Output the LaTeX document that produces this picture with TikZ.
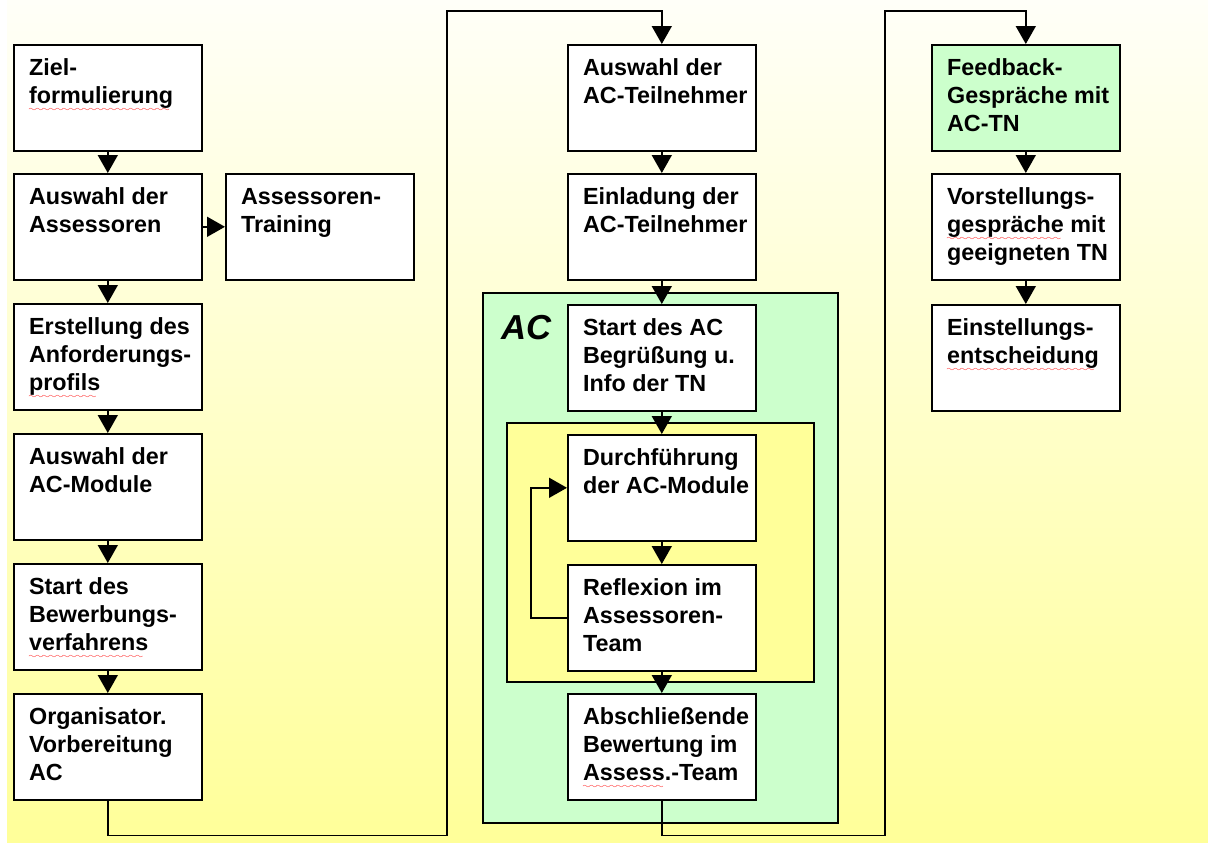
\documentclass[tikz,border=0pt]{standalone}
\usepackage{fontspec}
\setmainfont{Liberation Sans}
\usetikzlibrary{arrows.meta,positioning}

\definecolor{acgreen}{HTML}{CCFFCC}
\definecolor{loopyellow}{HTML}{FFFF99}
\definecolor{bgtop}{HTML}{FFFFF8}

% red spell-check wave under a word
\font\wavefont=lasy6
\newcommand{\redwave}[1]{\setbox0\hbox{#1}\rlap{\hbox to \wd0{\color{red}\leaders\hbox{\lower5.5pt\hbox{\wavefont\char58}}\hfil}}#1}

% text block of one step, top left in the box
\newcommand{\steptext}[1]{\parbox[t][79.5pt][t]{141pt}{\leftskip=11.5pt\rightskip=0pt plus 1fil\hyphenpenalty=10000\rule{0pt}{23.25pt}#1}}

\begin{document}
\begin{tikzpicture}[x=0.75pt, y=-0.75pt,
		stepbox/.style={draw, fill=white, line width=1.2pt, inner sep=0pt, anchor=north west,
			font=\fontsize{17.5}{21}\selectfont\bfseries},
		flow/.style={->, >={Triangle[width=15pt, length=13.5pt]}, line width=1.2pt},
		frame/.style={draw, line width=1.2pt}]
		\useasboundingbox (0,0) rectangle (1208,843);
		\fill[top color=bgtop, bottom color=loopyellow] (7,0) rectangle (1208,843);

		% AC frames
		\draw[frame, fill=acgreen] (483,293) rectangle (838,823);
		\draw[frame, fill=loopyellow] (507,423) rectangle (814,682);
		\node[anchor=base west, inner sep=0pt, font=\fontsize{26}{30}\selectfont\bfseries\itshape] (aclabel) at (501,339) {AC};

		% first column
		\node[stepbox] (ziel)      at (13,44)  {\steptext{Ziel-\\\redwave{formulierung}}};
		\node[stepbox] (assauswahl) at (13,173) {\steptext{Auswahl der\\Assessoren}};
		\node[stepbox] (training)  at (225,173) {\steptext{Assessoren-\\Training}};
		\node[stepbox] (profil)    at (13,303) {\steptext{Erstellung des\\Anforderungs-\\\redwave{profils}}};
		\node[stepbox] (module)    at (13,433) {\steptext{Auswahl der\\AC-Module}};
		\node[stepbox] (bewerbung) at (13,563) {\steptext{Start des\\Bewerbungs-\\\redwave{verfahrens}}};
		\node[stepbox] (orga)      at (13,693) {\steptext{Organisator.\\Vorbereitung\\AC}};

		% second column
		\node[stepbox] (tnauswahl) at (567,44)  {\steptext{Auswahl der\\AC-Teilnehmer}};
		\node[stepbox] (einladung) at (567,173) {\steptext{Einladung der\\AC-Teilnehmer}};
		\node[stepbox] (acstart)   at (567,304) {\steptext{Start des AC\\Begrüßung u.\\Info der TN}};
		\node[stepbox] (durchf)    at (567,434) {\steptext{Durchführung\\der AC-Module}};
		\node[stepbox] (reflex)    at (567,564) {\steptext{Reflexion im\\Assessoren-\\Team}};
		\node[stepbox] (bewertung) at (567,693) {\steptext{Abschließende\\Bewertung im\\\redwave{Assess}.-Team}};

		% third column
		\node[stepbox, fill=acgreen] (feedback) at (931,44) {\steptext{Feedback-\\Gespräche mit\\AC-TN}};
		\node[stepbox] (vorstellung) at (931,173) {\steptext{Vorstellungs-\\\redwave{gespräche} mit\\geeigneten TN}};
		\node[stepbox] (einstellung) at (931,304) {\steptext{Einstellungs-\\\redwave{entscheidung}}};

		% connectors
		\draw[flow] (ziel) -- (assauswahl);
		\draw[flow] (assauswahl) -- (training);
		\draw[flow] (assauswahl) -- (profil);
		\draw[flow] (profil) -- (module);
		\draw[flow] (module) -- (bewerbung);
		\draw[flow] (bewerbung) -- (orga);
		\draw[flow] (orga.south) -- ++(0,35) -| (447,11) -| (tnauswahl.north);
		\draw[flow] (tnauswahl) -- (einladung);
		\draw[flow] (einladung) -- (acstart);
		\draw[flow] (acstart) -- (durchf);
		\draw[flow] (durchf) -- (reflex);
		\draw[flow] (reflex.west) -- ++(-36,0) |- (durchf.west);
		\draw[flow] (reflex) -- (bewertung);
		\draw[flow] (bewertung.south) -- ++(0,35) -| (885,11) -| (feedback.north);
		\draw[flow] (feedback) -- (vorstellung);
		\draw[flow] (vorstellung) -- (einstellung);
	\end{tikzpicture}
\end{document}
